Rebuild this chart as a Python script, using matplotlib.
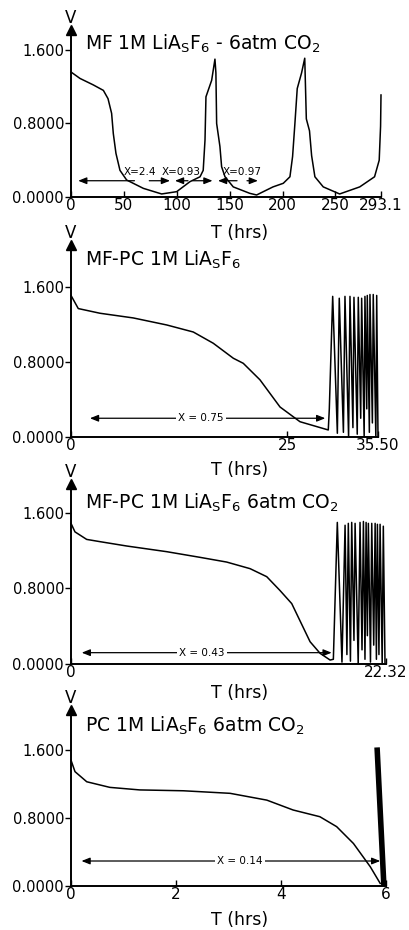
import matplotlib
matplotlib.use('Agg')
import matplotlib.pyplot as plt

plt.rcParams['font.family'] = ['DejaVu Sans']
plt.rcParams['mathtext.fontset'] = 'dejavusans'

W, H = 410, 930

# panel 1: MF 1M LiAsF6 - 6atm CO2, discharge/recharge cycles
t1 = [0, 8.5, 21, 30.6, 35, 38.4, 40, 42.5, 46.3, 52.6,
      68.4, 85.7, 99.9, 112.5, 122, 125, 126.7, 127.6, 133, 136.1,
      137, 137.7, 140.8, 142.4, 145.6, 153.4, 169, 175.5, 185, 191,
      200.7, 207, 209.5, 211.7, 213.9, 218, 221, 222.5, 225.5, 227.5,
      230.6, 238.5, 254, 273, 287, 291.4, 292.7, 293.1]
v1 = [1.36, 1.29, 1.22, 1.16, 1.07, 0.91, 0.69, 0.475, 0.29, 0.185,
      0.094, 0.033, 0.058, 0.167, 0.22, 0.29, 0.62, 1.09, 1.27, 1.50,
      1.35, 0.80, 0.55, 0.33, 0.22, 0.11, 0.04, 0.022, 0.076, 0.11,
      0.149, 0.22, 0.44, 0.80, 1.18, 1.35, 1.51, 0.85, 0.72, 0.45,
      0.22, 0.11, 0.033, 0.11, 0.22, 0.40, 0.77, 1.11]

# panel 2: MF-PC 1M LiAsF6
t2 = [0, 0.84, 3.35, 7.2, 11.07, 14.14, 16.45, 18.77, 19.92, 21.85, 24.17, 26.48, 29.75]
v2 = [1.51, 1.37, 1.32, 1.27, 1.195, 1.12, 1.0, 0.84, 0.786, 0.61, 0.32, 0.163, 0.075]
osc_t2 = [29.87, 30.26, 30.8, 31.02, 31.5, 31.68, 32.1, 32.26, 32.6, 32.72,
          33.1, 33.22, 33.5, 33.61, 33.9, 33.99, 34.2, 34.26, 34.5, 34.57,
          34.85, 34.95, 35.25, 35.35, 35.5]
osc_v2 = [0.3, 1.50, 0.04, 1.48, 0.05, 1.50, 0.0, 1.50, 0.1, 1.49,
          0.03, 1.49, 0.2, 1.48, 0.0, 1.50, 0.3, 1.51, 0.05, 1.52,
          0.15, 1.52, 0.0, 1.51, 0.0]

# panel 3: MF-PC 1M LiAsF6 6atm CO2
t3 = [0, 0.28, 1.11, 2.06, 3.95, 6.78, 9.14, 11.03, 12.69, 13.87, 14.8, 15.64, 16.2, 16.94, 17.65, 18.36]
v3 = [1.49, 1.40, 1.32, 1.296, 1.25, 1.19, 1.13, 1.08, 1.01, 0.925, 0.78, 0.64, 0.466, 0.236, 0.113, 0.042]
osc_t3 = [18.59, 18.87, 19.2, 19.42, 19.55, 19.65, 19.8, 19.89, 20.05, 20.13,
          20.35, 20.48, 20.62, 20.72, 20.83, 20.91, 21.0, 21.07, 21.22, 21.31,
          21.45, 21.55, 21.64, 21.71, 21.82, 21.9, 22.05, 22.13, 22.25]
osc_v3 = [0.05, 1.50, 0.02, 1.47, 0.1, 1.49, 0.03, 1.50, 0.25, 1.49,
          0.0, 1.50, 0.15, 1.51, 0.05, 1.50, 0.3, 1.49, 0.02, 1.49,
          0.2, 1.49, 0.05, 1.48, 0.1, 1.48, 0.0, 1.46, 0.0]

# panel 4: PC 1M LiAsF6 6atm CO2
t4 = [0, 0.076, 0.3, 0.74, 1.31, 2.14, 3.03, 3.73, 4.23, 4.74, 5.06, 5.38, 5.70, 5.89]
v4 = [1.48, 1.345, 1.226, 1.16, 1.13, 1.12, 1.09, 1.01, 0.894, 0.815, 0.698, 0.50, 0.227, 0.03]
band_t4 = [5.83, 5.96]
band_v4 = [1.63, 0.0]

titles = [r'MF 1M LiA$_\mathregular{S}$F$_\mathregular{6}$ - 6atm CO$_\mathregular{2}$',
          r'MF-PC 1M LiA$_\mathregular{S}$F$_\mathregular{6}$',
          r'MF-PC 1M LiA$_\mathregular{S}$F$_\mathregular{6}$ 6atm CO$_\mathregular{2}$',
          r'PC 1M LiA$_\mathregular{S}$F$_\mathregular{6}$ 6atm CO$_\mathregular{2}$']
xmax = [293.1, 35.5, 22.32, 6.0]
xticks = [[0, 50, 100, 150, 200, 250, 293.1], [0, 25, 35.5], [0, 22.32], [0, 2, 4, 6]]
xticklabels = [['0', '50', '100', '150', '200', '250', '293.1'], ['0', '25', '35.50'],
               ['0', '22.32'], ['0', '2', '4', '6']]
yticks = [0, 0.8, 1.6]
yticklabels = ['0.0000', '0.8000', '1.600']

# layout in pixels: left, right, bottom, top ; y top limit ; title baseline ; xlabel y
boxes = [(71, 381, 197, 30), (71, 378, 437, 245), (71, 386, 664, 484), (71, 386, 886, 710)]
ytop = [1.817, 2.048, 1.907, 2.07]
title_y = [50, 266, 509, 732]
xlabel_y = [233, 470, 693, 920]

fig = plt.figure(figsize=(W / 100, H / 100), dpi=100)
axes = []
for i, (l, r, b, t) in enumerate(boxes):
    ax = fig.add_axes([l / W, 1 - b / H, (r - l) / W, (b - t) / H])
    ax.patch.set_alpha(0)
    ax.set_xlim(0, xmax[i])
    ax.set_ylim(0, ytop[i])
    for s in ['top', 'right']:
        ax.spines[s].set_visible(False)
    for s in ['left', 'bottom']:
        ax.spines[s].set_linewidth(1.4)
    ax.set_yticks(yticks)
    ax.set_yticklabels(yticklabels)
    ax.set_xticks(xticks[i])
    ax.set_xticklabels(xticklabels[i])
    ax.tick_params(axis='y', direction='out', length=4, width=1, pad=1, labelsize=10.5)
    ax.tick_params(axis='x', direction='in', length=4, width=1, pad=1, labelsize=11)
    # arrow head on the voltage axis
    ax.plot(0, 1, '^', color='k', ms=7, transform=ax.transAxes, clip_on=False)
    ax.annotate('V', xy=(0, 1), xycoords='axes fraction', xytext=(0, 2),
                textcoords='offset points', ha='center', va='bottom', fontsize=12)
    fig.text(85 / W, 1 - title_y[i] / H, titles[i], fontsize=13.5, ha='left', va='baseline')
    fig.text(240 / W, 1 - xlabel_y[i] / H, 'T (hrs)', fontsize=12.5, ha='center', va='center')
    axes.append(ax)

lw = 1.1
axes[0].plot(t1, v1, color='k', lw=lw, clip_on=False)
axes[1].plot(t2 + osc_t2, v2 + osc_v2, color='k', lw=lw, clip_on=False)
axes[2].plot(t3 + osc_t3, v3 + osc_v3, color='k', lw=lw, clip_on=False)
axes[3].plot(t4, v4, color='k', lw=lw, clip_on=False)
axes[3].plot(band_t4, band_v4, color='k', lw=4, solid_capstyle='butt', clip_on=False)

head = dict(arrowstyle='-|>,head_length=0.5,head_width=0.2', color='k', lw=0.9,
            shrinkA=0, shrinkB=0)

# panel 1: split arrows with the composition label above the gap
ax = axes[0]
segs = [(6.8, 60, 74, 93.6, 65, 'X=2.4'),
        (98.3, 110.6, 115, 133.8, 104, 'X=0.93'),
        (139, 157, 166.4, 176.7, 161.6, 'X=0.97')]
for a, b, c, d, tx, lab in segs:
    ax.annotate('', xy=(a, 0.177), xytext=(b, 0.177), arrowprops=head)
    ax.annotate('', xy=(d, 0.177), xytext=(c, 0.177), arrowprops=head)
    ax.text(tx, 0.27, lab, fontsize=7.5, ha='center', va='center')

# panels 2-4: one double arrow with the label sitting on it
dbl = dict(arrowstyle='<|-|>,head_length=0.5,head_width=0.2', color='k', lw=0.9,
           shrinkA=0, shrinkB=0)
for ax, (x0, x1, y, tx, lab) in zip(axes[1:], [(2.19, 29.4, 0.2, 15.05, 'X = 0.75'),
                                             (0.76, 18.47, 0.12, 9.26, 'X = 0.43'),
                                             (0.2, 5.89, 0.294, 3.22, 'X = 0.14')]):
    ax.annotate('', xy=(x0, y), xytext=(x1, y), arrowprops=dbl)
    ax.text(tx, y, lab, fontsize=7.5, ha='center', va='center',
            bbox=dict(facecolor='white', edgecolor='none', pad=1.5))

fig.savefig('out.png', dpi=100)
